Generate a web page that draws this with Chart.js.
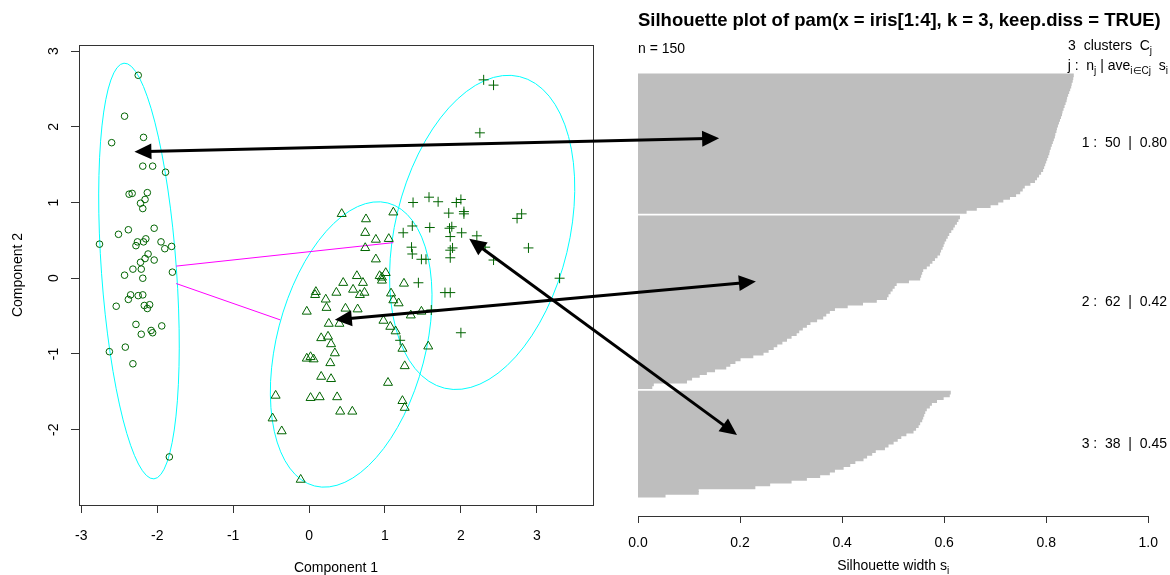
<!DOCTYPE html>
<html>
<head>
<meta charset="utf-8">
<script src="https://cdn.jsdelivr.net/npm/chart.js@4.4.0/dist/chart.umd.min.js"></script>
<style>
  html, body { margin: 0; padding: 0; background: #fff; overflow: hidden; }
  #wrap { position: relative; width: 1170px; height: 575px; }
  #clusplot { position: absolute; left: 0; top: 0; }
  #silplot { position: absolute; left: 605px; top: 0; }
  #arrows { position: absolute; left: 0; top: 0; pointer-events: none; }
</style>
</head>
<body>
<div id="wrap">
  <canvas id="clusplot" width="605" height="575"></canvas>
  <canvas id="silplot" width="565" height="575"></canvas>
  <canvas id="arrows" width="1170" height="575"></canvas>
</div>
<script>
const FONT = '"Liberation Sans", Arial, sans-serif';

// ---- cluster plot (component 1, component 2) ----
const cluster1Points = [
  [-2.25, 2.68], [-2.43, 2.14], [-2.60, 1.79], [-2.18, 1.86], [-2.19, 1.48], [-2.06, 1.48],
  [-1.89, 1.40], [-2.37, 1.11], [-2.33, 1.12], [-2.13, 1.13], [-2.16, 1.04], [-2.22, 0.99],
  [-2.19, 0.92], [-2.51, 0.58], [-2.38, 0.64], [-2.04, 0.66], [-2.76, 0.45], [-2.26, 0.48],
  [-2.28, 0.43], [-2.18, 0.48], [-2.15, 0.52], [-1.95, 0.48], [-1.90, 0.39], [-1.81, 0.42],
  [-2.12, 0.32], [-2.16, 0.26], [-2.22, 0.21], [-2.04, 0.24], [-2.32, 0.12], [-2.21, 0.12],
  [-2.43, 0.04], [-2.19, 0.00], [-1.80, 0.08], [-2.19, -0.22], [-2.35, -0.22], [-2.38, -0.28],
  [-2.25, -0.23], [-2.54, -0.37], [-2.17, -0.36], [-2.10, -0.35], [-2.13, -0.40], [-2.28, -0.61],
  [-2.21, -0.74], [-2.08, -0.69], [-2.06, -0.72], [-1.94, -0.63], [-2.63, -0.97], [-2.42, -0.91],
  [-2.32, -1.13], [-1.84, -2.36]
];
const cluster2Points = [
  [0.43, 0.85], [0.75, 0.78], [1.11, 0.87], [0.74, 0.60], [0.88, 0.51], [1.05, 0.52],
  [0.74, 0.40], [0.88, 0.25], [0.63, 0.03], [0.45, -0.06], [0.71, -0.06], [0.93, 0.03],
  [1.01, 0.07], [0.96, -0.03], [0.09, -0.18], [0.08, -0.22], [0.36, -0.19], [0.58, -0.15],
  [0.67, -0.22], [0.73, -0.19], [1.08, -0.20], [0.22, -0.28], [0.23, -0.39], [-0.03, -0.44],
  [0.48, -0.40], [0.64, -0.41], [1.11, -0.29], [1.18, -0.33], [0.26, -0.60], [0.40, -0.60],
  [0.98, -0.56], [1.07, -0.64], [1.14, -0.70], [1.34, -0.49], [1.48, -0.44], [0.16, -0.79],
  [0.25, -0.77], [0.29, -0.87], [1.23, -0.93], [1.57, -0.90], [0.34, -0.99], [-0.03, -1.06],
  [0.02, -1.04], [0.28, -1.12], [1.26, -1.16], [0.16, -1.30], [0.29, -1.33], [1.04, -1.38],
  [-0.44, -1.55], [0.02, -1.58], [0.14, -1.57], [0.37, -1.57], [1.23, -1.62], [1.26, -1.71],
  [0.41, -1.76], [0.57, -1.76], [-0.48, -1.85], [-0.36, -2.02], [-0.11, -2.66], [1.25, -0.07],
  [0.96, 0.01], [0.06, -1.07]
];
const cluster3Points = [
  [2.30, 2.62], [2.43, 2.55], [2.25, 1.92], [1.37, 1.00], [1.58, 1.07], [1.70, 1.01],
  [1.94, 1.00], [2.00, 1.04], [1.84, 0.86], [2.04, 0.88], [2.04, 0.85], [2.80, 0.85],
  [2.74, 0.79], [1.24, 0.60], [1.36, 0.69], [1.59, 0.67], [1.88, 0.68], [1.85, 0.66],
  [1.86, 0.55], [2.01, 0.60], [2.21, 0.56], [1.89, 0.40], [1.86, 0.37], [1.86, 0.27],
  [1.35, 0.41], [1.36, 0.32], [1.48, 0.25], [1.54, 0.25], [2.32, 0.41], [2.43, 0.24],
  [2.89, 0.40], [3.30, 0.00], [1.44, -0.06], [1.79, -0.19], [1.86, -0.19], [2.00, -0.72],
  [1.20, -0.82], [1.61, -0.42]
];
// spanning ellipses: centre x, centre y, semi-major, semi-minor, angle (deg)
const clusterEllipses = [
  [-2.24, 0.095, 2.752, 0.494, 94.1],
  [0.555, -0.875, 1.93, 0.98, 75.5],
  [2.28, 0.605, 2.116, 1.147, 76.5]
];
// distance lines between the ellipses
const distanceLines = [
  [[-1.75, 0.16], [1.11, 0.47]],
  [[-1.75, -0.07], [-0.38, -0.55]]
];
const compTicks = [-3, -2, -1, 0, 1, 2, 3];

// ---- silhouette widths, sorted inside each cluster ----
const sil1 = [0.853, 0.852, 0.851, 0.849, 0.848, 0.846, 0.844, 0.842, 0.840, 0.839,
  0.837, 0.835, 0.833, 0.831, 0.830, 0.828, 0.826, 0.824, 0.822, 0.820,
  0.819, 0.817, 0.816, 0.814, 0.812, 0.810, 0.808, 0.806, 0.805, 0.803,
  0.801, 0.799, 0.797, 0.795, 0.793, 0.789, 0.785, 0.781, 0.777, 0.768,
  0.757, 0.753, 0.748, 0.740, 0.728, 0.715, 0.705, 0.690, 0.663, 0.643];
const sil2 = [0.630, 0.627, 0.624, 0.620, 0.617, 0.613, 0.609, 0.606, 0.603, 0.600,
  0.598, 0.596, 0.593, 0.591, 0.586, 0.581, 0.576, 0.571, 0.565, 0.558,
  0.556, 0.554, 0.552, 0.530, 0.506, 0.502, 0.498, 0.494, 0.490, 0.487,
  0.467, 0.440, 0.410, 0.385, 0.375, 0.368, 0.362, 0.350, 0.337, 0.330,
  0.322, 0.315, 0.310, 0.300, 0.291, 0.282, 0.272, 0.265, 0.255, 0.245,
  0.225, 0.200, 0.190, 0.180, 0.172, 0.150, 0.134, 0.120, 0.105, 0.095,
  0.030, 0.027];
const sil3 = [0.612, 0.610, 0.598, 0.585, 0.575, 0.571, 0.565, 0.562, 0.560, 0.558,
  0.556, 0.552, 0.549, 0.544, 0.539, 0.525, 0.515, 0.508, 0.500, 0.490,
  0.483, 0.465, 0.458, 0.448, 0.441, 0.425, 0.415, 0.402, 0.385, 0.375,
  0.356, 0.330, 0.300, 0.258, 0.229, 0.118, 0.118, 0.053];
const silAverages = ["0.80", "0.42", "0.45"];
const silTicks = [0, 0.2, 0.4, 0.6, 0.8, 1.0];
const plotTitle = "Silhouette plot of pam(x = iris[1:4], k = 3, keep.diss = TRUE)";

// arrows: point in the cluster plot  <->  [silhouette width, bar row]
const arrowLinks = [
  { from: [-2.30, 1.67], to: [0.159, 22.6] },
  { from: [0.34, -0.55], to: [0.231, 74.1] },
  { from: [2.11, 0.52], to: [0.194, 129.2] }
];

const toXY = (p) => ({ x: p[0], y: p[1] });

// bars: one row per observation, one empty row between clusters
const silGroups = [sil1, sil2, sil3];
const silRows = [];
const groupRows = [];
let row = 0;
silGroups.forEach((g) => {
  const start = row;
  g.forEach((v) => { silRows.push({ x: v, y: row }); row++; });
  groupRows.push((start + row - 1) / 2);
  row++;
});

// ---- plugins ----
const boxAndLabels = {
  id: "boxAndLabels",
  beforeDatasetsDraw(chart) {
    const { ctx, scales: { x, y } } = chart;
    const sx = x.getPixelForValue(1) - x.getPixelForValue(0);
    const sy = y.getPixelForValue(0) - y.getPixelForValue(1);
    ctx.save();
    ctx.strokeStyle = "#00ffff";
    ctx.lineWidth = 1;
    clusterEllipses.forEach(([cx, cy, a, b, ang]) => {
      ctx.save();
      ctx.translate(x.getPixelForValue(cx), y.getPixelForValue(cy));
      ctx.scale(sx, -sy);
      ctx.rotate((ang * Math.PI) / 180);
      ctx.beginPath();
      ctx.ellipse(0, 0, a, b, 0, 0, Math.PI * 2);
      ctx.restore();
      ctx.stroke();
    });
    ctx.restore();
  },
  afterDraw(chart) {
    const { ctx, chartArea: ca, scales: { y } } = chart;
    ctx.save();
    ctx.strokeStyle = "#333";
    ctx.lineWidth = 1;
    ctx.strokeRect(Math.round(ca.left) + 0.5, Math.round(ca.top) + 0.5,
      Math.round(ca.right - ca.left), Math.round(ca.bottom - ca.top));
    // y tick labels, parallel to the axis
    ctx.fillStyle = "#000";
    ctx.font = "14px " + FONT;
    ctx.textAlign = "center";
    ctx.textBaseline = "middle";
    y.ticks.forEach((t) => {
      const py = y.getPixelForValue(t.value);
      ctx.save();
      ctx.translate(54, py);
      ctx.rotate(-Math.PI / 2);
      ctx.fillText(String(t.value), 0, 0);
      ctx.restore();
    });
    ctx.restore();
  }
};

function richText(ctx, parts, x, y, align) {
  const big = "14px " + FONT, small = "10px " + FONT;
  let total = 0;
  parts.forEach(([t, sub]) => { ctx.font = sub ? small : big; total += ctx.measureText(t).width; });
  let cx = align === "right" ? x - total : align === "center" ? x - total / 2 : x;
  ctx.textAlign = "left";
  parts.forEach(([t, sub]) => {
    ctx.font = sub ? small : big;
    ctx.fillText(t, cx, sub ? y + 4 : y);
    cx += ctx.measureText(t).width;
  });
}

const silText = {
  id: "silText",
  afterDraw(chart) {
    const { ctx, chartArea: ca, scales: { y } } = chart;
    ctx.save();
    ctx.fillStyle = "#000";
    ctx.textBaseline = "alphabetic";
    ctx.textAlign = "left";
    ctx.font = "bold 18.5px " + FONT;
    ctx.fillText(plotTitle, ca.left, 26);
    ctx.font = "14px " + FONT;
    ctx.fillText("n = " + silRows.length, ca.left, 53);
    richText(ctx, [[silGroups.length + "  clusters  C"], ["j", 1]], 547, 50, "right");
    richText(ctx, [["j :  n"], ["j", 1], [" | ave"], ["i\u2208Cj", 1], ["  s"], ["i", 1]], 563, 70, "right");
    ctx.textBaseline = "middle";
    silGroups.forEach((g, i) => {
      richText(ctx, [[(i + 1) + " :  " + g.length + "  |  " + silAverages[i]]], 562, y.getPixelForValue(groupRows[i]), "right");
    });
    ctx.textBaseline = "alphabetic";
    richText(ctx, [["Silhouette width s"], ["i", 1]], (ca.left + ca.right) / 2, 570, "center");
    ctx.restore();
  }
};

// ---- cluster plot ----
const markColor = "#006400";
const clusChart = new Chart(document.getElementById("clusplot"), {
  type: "scatter",
  data: {
    datasets: [
      { data: cluster1Points.map(toXY), pointStyle: "circle", pointRadius: 3.3 },
      { data: cluster2Points.map(toXY), pointStyle: "triangle", pointRadius: 5.2 },
      { data: cluster3Points.map(toXY), pointStyle: "cross", pointRadius: 5 },
      ...distanceLines.map((l) => ({
        data: l.map(toXY), showLine: true, pointRadius: 0,
        borderColor: "#ff00ff", borderWidth: 1
      }))
    ].map((d) => Object.assign({
      borderColor: markColor, backgroundColor: "transparent", borderWidth: 1
    }, d))
  },
  options: {
    responsive: false,
    animation: false,
    layout: { padding: { left: 0, top: 45, right: 12, bottom: 0 } },
    plugins: { legend: { display: false }, tooltip: { enabled: false } },
    scales: {
      x: {
        type: "linear", min: -3.03, max: 3.74,
        afterFit(s) { s.height = 70; },
        afterBuildTicks(s) { s.ticks = compTicks.map((v) => ({ value: v })); },
        ticks: { color: "#000", font: { size: 14, family: FONT }, padding: 15 },
        grid: { drawOnChartArea: false, tickLength: 8, color: "#333" },
        border: { color: "#333" },
        title: { display: true, text: "Component 1", color: "#000", font: { size: 14, family: FONT }, padding: { top: 0, bottom: -2 } }
      },
      y: {
        type: "linear", min: -2.995, max: 3.08,
        afterFit(s) { s.width = 79; },
        afterBuildTicks(s) { s.ticks = compTicks.filter((v) => v >= -2.995).map((v) => ({ value: v })); },
        ticks: { display: false },
        grid: { drawOnChartArea: false, tickLength: 8, color: "#333" },
        border: { color: "#333" },
        title: { display: true, text: "Component 2", color: "#000", font: { size: 14, family: FONT }, padding: { top: 10, bottom: 0 } }
      }
    }
  },
  plugins: [boxAndLabels]
});

// ---- silhouette plot ----
const silChart = new Chart(document.getElementById("silplot"), {
  type: "bar",
  data: {
    datasets: [{
      data: silRows,
      backgroundColor: "#bebebe",
      borderWidth: 0,
      inflateAmount: 0.5,
      barPercentage: 1,
      categoryPercentage: 1
    }]
  },
  options: {
    indexAxis: "y",
    responsive: false,
    animation: false,
    layout: { padding: { left: 33, top: 57, right: 21, bottom: 0 } },
    plugins: { legend: { display: false }, tooltip: { enabled: false } },
    scales: {
      x: {
        type: "linear", min: 0, max: 1,
        afterFit(s) { s.height = 59; },
        afterBuildTicks(s) { s.ticks = silTicks.map((v) => ({ value: v })); },
        ticks: { color: "#000", font: { size: 14, family: FONT }, padding: 12, callback: (v) => v.toFixed(1) },
        grid: { drawOnChartArea: false, tickLength: 7, color: "#333" },
        border: { color: "#333" }
      },
      y: {
        type: "linear", reverse: true, offset: false, min: -6.61, max: 158.33, display: false
      }
    }
  },
  plugins: [silText]
});

// ---- arrows across both panels ----
const octx = document.getElementById("arrows").getContext("2d");
const silLeft = document.getElementById("silplot").offsetLeft;
function head(x, y, ang) {
  const len = 17, half = 8;
  octx.beginPath();
  octx.moveTo(x, y);
  octx.lineTo(x - len * Math.cos(ang) + half * Math.sin(ang), y - len * Math.sin(ang) - half * Math.cos(ang));
  octx.lineTo(x - len * Math.cos(ang) - half * Math.sin(ang), y - len * Math.sin(ang) + half * Math.cos(ang));
  octx.closePath();
  octx.fill();
}
octx.strokeStyle = "#000";
octx.fillStyle = "#000";
octx.lineWidth = 3;
arrowLinks.forEach(({ from, to }) => {
  const x1 = clusChart.scales.x.getPixelForValue(from[0]);
  const y1 = clusChart.scales.y.getPixelForValue(from[1]);
  const x2 = silLeft + silChart.scales.x.getPixelForValue(to[0]);
  const y2 = silChart.scales.y.getPixelForValue(to[1]);
  const ang = Math.atan2(y2 - y1, x2 - x1);
  octx.beginPath();
  octx.moveTo(x1 + 12 * Math.cos(ang), y1 + 12 * Math.sin(ang));
  octx.lineTo(x2 - 12 * Math.cos(ang), y2 - 12 * Math.sin(ang));
  octx.stroke();
  head(x2, y2, ang);
  head(x1, y1, ang + Math.PI);
});
</script>
</body>
</html>
